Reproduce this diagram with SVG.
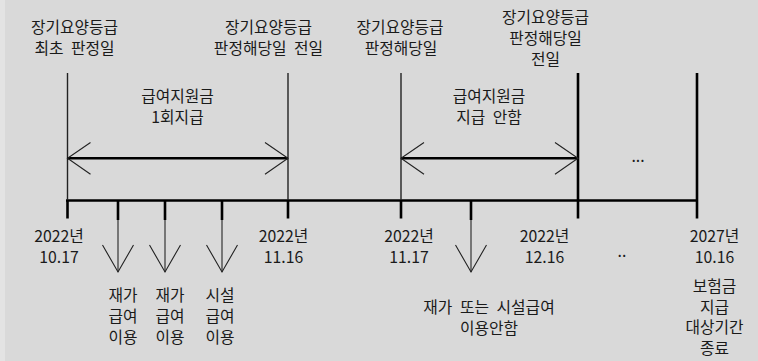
<svg xmlns="http://www.w3.org/2000/svg" width="758" height="361" viewBox="0 0 758 361">
  <style>
    text { font-family: "Noto Sans CJK KR", "Noto Sans", sans-serif; font-size: 15.8px; fill: #1a1a1a; text-anchor: middle; }
    .ws { word-spacing: 4px; }
    .thin { stroke: #222; stroke-width: 1.4; fill: none; }
    .thick { stroke: #000; stroke-width: 2.6; fill: none; }
    .head { stroke: #222; stroke-width: 1.1; fill: none; }
    .stem { stroke: #555; stroke-width: 1.5; fill: none; }
  </style>
  <defs>
    <g id="downArrow">
      <line class="thick" x1="0" y1="200" x2="0" y2="220"/>
      <line class="stem" x1="0" y1="220" x2="0" y2="272"/>
      <polyline class="head" points="-15.5,245 0,272 15.5,245"/>
    </g>
  </defs>
  <rect width="758" height="361" fill="#d9d9d9"/>
  <rect width="5" height="361" fill="#e3e3e3"/>

  <g id="connectors">
    <!-- main timeline -->
    <line class="thick" x1="66" y1="200.5" x2="698" y2="200.5"/>
    <!-- vertical markers -->
    <line class="thin" x1="67.5" y1="73" x2="67.5" y2="200"/>
    <line class="thick" x1="67.5" y1="200" x2="67.5" y2="218.5"/>
    <line class="thin" x1="288" y1="73" x2="288" y2="200"/>
    <line class="thick" x1="288" y1="200" x2="288" y2="218.5"/>
    <line class="thin" x1="401" y1="73" x2="401" y2="200"/>
    <line class="thick" x1="401" y1="200" x2="401" y2="218.5"/>
    <line class="thick" x1="578" y1="73" x2="578" y2="218.5"/>
    <line class="thick" x1="697" y1="73" x2="697" y2="218.5"/>
    <!-- double arrows -->
    <line class="thick" x1="67.5" y1="158.3" x2="288" y2="158.3"/>
    <polyline class="head" points="90.5,142.5 67.5,158.3 90.5,174.3"/>
    <polyline class="head" points="265,142.5 288,158.3 265,174.3"/>
    <line class="thick" x1="401" y1="158.3" x2="578" y2="158.3"/>
    <polyline class="head" points="424,142.5 401,158.3 424,174.3"/>
    <polyline class="head" points="555,142.5 578,158.3 555,174.3"/>
    <!-- down arrows -->
    <use href="#downArrow" x="118"/>
    <use href="#downArrow" x="165"/>
    <use href="#downArrow" x="222"/>
    <use href="#downArrow" x="471"/>
  </g>

  <g id="top-label-1">
    <text x="74.5" y="33">장기요양등급</text>
    <text x="74.5" y="54" class="ws">최초 판정일</text>
  </g>
  <g id="top-label-2">
    <text x="268.5" y="33">장기요양등급</text>
    <text x="268.5" y="54" class="ws">판정해당일 전일</text>
  </g>
  <g id="top-label-3">
    <text x="400" y="33">장기요양등급</text>
    <text x="401" y="54">판정해당일</text>
  </g>
  <g id="top-label-4">
    <text x="545.5" y="22.5">장기요양등급</text>
    <text x="545.5" y="43.5">판정해당일</text>
    <text x="545.5" y="64.5">전일</text>
  </g>

  <g id="period-1">
    <text x="177.5" y="101.5">급여지원금</text>
    <text x="177.5" y="122.5">1회지급</text>
  </g>
  <g id="period-2">
    <text x="489" y="101.5">급여지원금</text>
    <text x="489" y="122.5" class="ws">지급 안함</text>
  </g>
  <g id="ellipsis-top">
    <text x="638" y="162">...</text>
  </g>

  <g id="date-1">
    <text x="59" y="241.5">2022년</text>
    <text x="59" y="262.5">10.17</text>
  </g>
  <g id="date-2">
    <text x="283.5" y="241.5">2022년</text>
    <text x="283.5" y="262.5">11.16</text>
  </g>
  <g id="date-3">
    <text x="409" y="241.5">2022년</text>
    <text x="409" y="262.5">11.17</text>
  </g>
  <g id="date-4">
    <text x="544.5" y="241.5">2022년</text>
    <text x="544.5" y="262.5">12.16</text>
  </g>
  <g id="ellipsis-bottom">
    <text x="622" y="256.5">..</text>
  </g>
  <g id="date-5">
    <text x="714.5" y="241.5">2027년</text>
    <text x="714.5" y="262.5">10.16</text>
  </g>

  <g id="use-1">
    <text x="123" y="300.5">재가</text>
    <text x="123" y="321.5">급여</text>
    <text x="123" y="342.5">이용</text>
  </g>
  <g id="use-2">
    <text x="170" y="300.5">재가</text>
    <text x="170" y="321.5">급여</text>
    <text x="170" y="342.5">이용</text>
  </g>
  <g id="use-3">
    <text x="220" y="300.5">시설</text>
    <text x="220" y="321.5">급여</text>
    <text x="220" y="342.5">이용</text>
  </g>
  <g id="no-use">
    <text x="489" y="312.5" class="ws">재가 또는 시설급여</text>
    <text x="489" y="333.5">이용안함</text>
  </g>
  <g id="end-label">
    <text x="714.5" y="292">보험금</text>
    <text x="714.5" y="312.5">지급</text>
    <text x="714.5" y="333">대상기간</text>
    <text x="714.5" y="353.5">종료</text>
  </g>
</svg>
